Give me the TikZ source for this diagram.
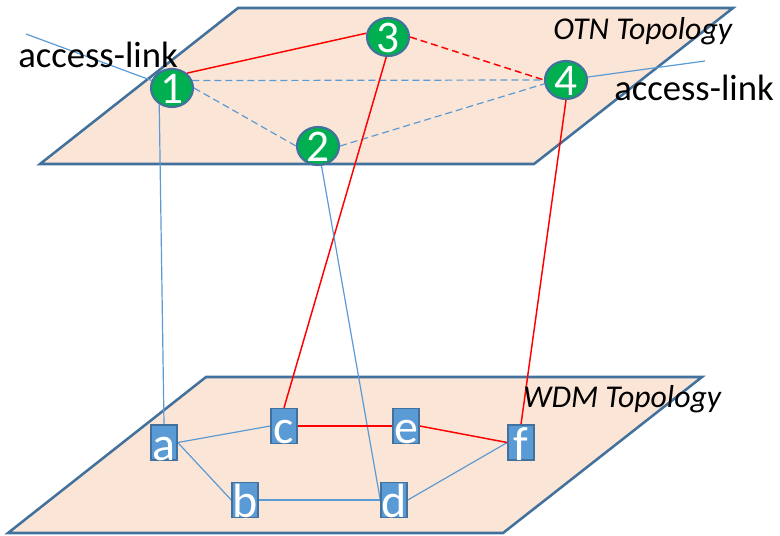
\documentclass[tikz,border=0pt]{standalone}
\usepackage{fontspec}
\setmainfont{Carlito}
\usetikzlibrary{shapes.geometric}
\definecolor{planefill}{HTML}{FBE5D6}
\definecolor{planeedge}{HTML}{41719C}
\definecolor{nodeblue}{HTML}{5B9BD5}
\definecolor{otngreen}{HTML}{00B050}
\definecolor{linkred}{HTML}{FF0000}
\pgfdeclarelayer{planes}
\pgfdeclarelayer{links}
\pgfsetlayers{planes,links,main}
\begin{document}
\begin{tikzpicture}[x=0.75pt,y=-0.75pt,
  plane/.style={fill=planefill,draw=planeedge,line width=1.9pt,line join=miter},
  otn/.style={ellipse,fill=otngreen,draw=planeedge,line width=1.6pt,minimum width=31.5pt,minimum height=28.5pt,inner sep=-3pt,text=white,font=\fontsize{34}{34}\selectfont,text height=22.5pt,text depth=0pt},
  wdm/.style={rectangle,fill=nodeblue,draw=planeedge,line width=1.1pt,minimum width=19.5pt,minimum height=26.25pt,inner sep=0pt,text=white,font=\fontsize{36}{36}\selectfont,text height=26.25pt,text depth=0pt},
  blink/.style={draw=nodeblue,line width=0.9pt},
  rlink/.style={draw=linkred,line width=1.1pt},
  dashlink/.style={dash pattern=on 5.25pt off 3pt},
  lbl/.style={anchor=base west,inner sep=0pt,text=black},
  biglbl/.style={lbl,font=\fontsize{27.5}{27.5}\selectfont},
  toplbl/.style={lbl,font=\fontsize{23.8}{23.8}\selectfont\itshape}]
\useasboundingbox (0,0) rectangle (780,535);
\begin{pgfonlayer}{planes}
  \path[plane] (238,8) -- (733,8) -- (534,164) -- (40,164) -- cycle;
  \path[plane] (206,377) -- (702,377) -- (503,533) -- (8,533) -- cycle;
\end{pgfonlayer}
\node[toplbl] (otnlbl) at (553,40) {OTN Topology};
\node[toplbl] (wdmlbl) at (523,407) {WDM Topology};
\node[biglbl] (al1lbl) at (18,67) {access-link};
\node[biglbl] (al4lbl) at (614,100) {access-link};
\node[otn] (n1) at (172,88) {1};
\node[otn] (n2) at (318,146) {2};
\node[otn] (n3) at (388,37) {3};
\node[otn] (n4) at (566,80) {4};
\node[wdm] (a) at (164,442.5) {a};
\node[wdm] (b) at (245,500) {b};
\node[wdm] (c) at (284,426) {c};
\node[wdm] (d) at (394,500) {d};
\node[wdm] (e) at (406,426) {e};
\node[wdm] (f) at (521,442.5) {f};
\coordinate (al1) at (26,34);
\coordinate (al4) at (705,61);
\begin{pgfonlayer}{links}
  \draw[blink] (al1) -- (n1);
  \draw[blink] (n4) -- (al4);
  \draw[rlink] (n1.45) -- (n3.170);
  \draw[rlink,dashlink] (n3.east) -- (n4.west);
  \draw[blink,dashlink] (n1.20) -- (n4.180);
  \draw[blink,dashlink] (n1.east) -- (n2.west);
  \draw[blink,dashlink] (n2.east) -- (n4.190);
  \draw[blink] (n1.-128) -- (a.north);
  \draw[rlink] (n3.-95) -- (c.north);
  \draw[blink] (n2.-80) -- (d.west);
  \draw[rlink] (n4.south) -- (f.north);
  \draw[blink] (a.east) -- (c.west);
  \draw[blink] (a.east) -- (b.west);
  \draw[blink] (b.east) -- (d.west);
  \draw[blink] (d.east) -- (f.west);
  \draw[rlink] (c.east) -- (e.west);
  \draw[rlink] (e.east) -- (f.west);
\end{pgfonlayer}
\end{tikzpicture}
\end{document}
